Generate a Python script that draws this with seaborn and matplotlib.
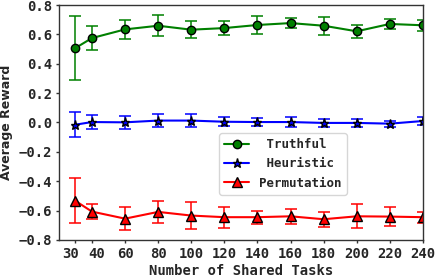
import numpy as np
import pandas as pd
import matplotlib
matplotlib.use("Agg")
import matplotlib.pyplot as plt
import matplotlib.transforms as mtransforms
import seaborn as sns

# values
tasks = [30, 40, 60, 80, 100, 120, 140, 160, 180, 200, 220, 240]

truthful = [0.507, 0.575, 0.634, 0.659, 0.632, 0.643, 0.664, 0.677, 0.659, 0.621, 0.671, 0.662]
truthful_err = [0.216, 0.084, 0.066, 0.070, 0.058, 0.048, 0.060, 0.032, 0.060, 0.045, 0.033, 0.037]

heuristic = [-0.015, 0.003, 0.001, 0.013, 0.013, 0.005, 0.003, 0.003, -0.003, -0.003, -0.008, 0.010]
heuristic_err = [0.087, 0.047, 0.043, 0.044, 0.045, 0.030, 0.030, 0.034, 0.030, 0.025, 0.020, 0.025]

permutation = [-0.534, -0.607, -0.655, -0.609, -0.634, -0.645, -0.645, -0.639, -0.659, -0.639, -0.641, -0.645]
permutation_err = [0.153, 0.053, 0.080, 0.077, 0.089, 0.072, 0.044, 0.050, 0.050, 0.083, 0.063, 0.037]

y_ticks = [-0.8, -0.6, -0.4, -0.2, 0.0, 0.2, 0.4, 0.6, 0.8]

series = [
    (" Truthful", truthful, truthful_err, "green", "o", 6),
    (" Heuristic", heuristic, heuristic_err, "blue", "*", 6.5),
    ("Permutation", permutation, permutation_err, "red", "^", 6.5),
]

sns.set_style("white")
mono = {"family": "DejaVu Sans Mono", "weight": "bold"}

fig, ax = plt.subplots(figsize=(4.36, 2.79), dpi=100)

for name, vals, errs, col, mk, ms in series:
    df = pd.DataFrame({"tasks": tasks, "reward": vals})
    ax.errorbar(tasks, vals, yerr=errs, fmt="none", ecolor=col, elinewidth=1.3,
                capsize=4, capthick=1.3, alpha=0.85)
    sns.lineplot(data=df, x="tasks", y="reward", ax=ax, color=col, marker=mk,
                 markersize=ms, markeredgecolor="black", markeredgewidth=1,
                 linewidth=1.5, label=name)

ax.set_xlim(20, 240)
ax.set_ylim(-0.8, 0.8)
ax.set_xticks(tasks)
ax.set_xticklabels([str(t) for t in tasks], fontdict=mono, fontsize=10)
ax.set_yticks(y_ticks)
ax.set_yticklabels([("%.1f" % v).replace("-", "\u2212") for v in y_ticks],
                   fontdict=mono, fontsize=10)
ax.tick_params(axis="both", length=2, width=1, color="#333333", pad=3,
               bottom=True, left=True)

# push the crowded 30 / 40 labels apart a little
xlabs = ax.get_xticklabels()
for lab, dx in [(xlabs[0], -4.5), (xlabs[1], 4.5)]:
    lab.set_transform(lab.get_transform() +
                      mtransforms.ScaledTranslation(dx / 100, 0, fig.dpi_scale_trans))

ax.set_xlabel("Number of Shared Tasks", fontdict=mono, fontsize=10, labelpad=2)
ax.set_ylabel("Average Reward", fontweight="bold", fontsize=9, family="DejaVu Sans",
              labelpad=4)

for s in ax.spines.values():
    s.set_color("#333333")
    s.set_linewidth(1)

leg = ax.legend(loc="upper left", bbox_to_anchor=(0.44, 0.455), borderaxespad=0,
                prop={"family": "DejaVu Sans Mono", "weight": "bold", "size": 9},
                frameon=True, fancybox=True, handlelength=2)

fig.subplots_adjust(left=0.135, right=0.970, top=0.982, bottom=0.14)
fig.savefig("out.png", dpi=100)
